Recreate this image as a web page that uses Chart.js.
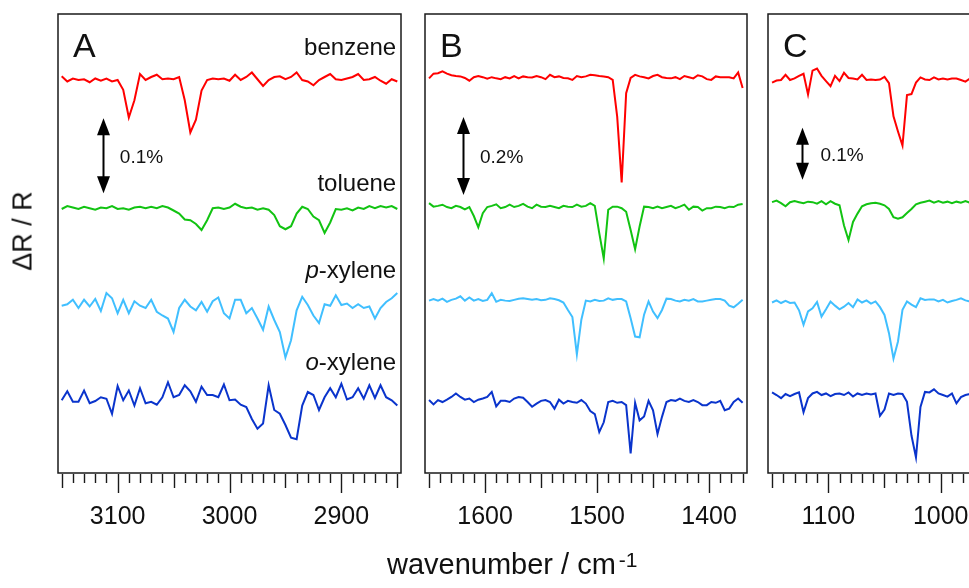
<!DOCTYPE html>
<html>
<head>
<meta charset="utf-8">
<title>Delta R / R spectra</title>
<script src="https://cdn.jsdelivr.net/npm/chart.js@4.4.1/dist/chart.umd.min.js"></script>
<style>
  html, body { margin: 0; padding: 0; background: #fff; }
  #fig { position: relative; width: 969px; height: 588px; overflow: hidden;
         font-family: "Liberation Sans", Arial, sans-serif; color: #111; }
  #fig canvas { position: absolute; top: 0; }
  #ytitle { position: absolute; left: 23px; top: 231px; transform: translate(-50%, -50%) rotate(-90deg);
            font-size: 27px; line-height: 1; white-space: nowrap; }
  #xtitle { position: absolute; left: 387px; top: 550px; font-size: 29px; line-height: 1; white-space: nowrap; }
  #xtitle span { font-size: 21px; position: relative; top: -7px; margin-left: 3px; }
</style>
</head>
<body>
<div id="fig">
  <canvas id="panelA" width="412" height="588" style="left:0px"></canvas>
  <canvas id="panelB" width="345" height="588" style="left:412px"></canvas>
  <canvas id="panelC" width="260" height="588" style="left:757px"></canvas>
  <div id="ytitle">ΔR / R</div>
  <div id="xtitle">wavenumber / cm<span>-1</span></div>
</div>
<script>
// ΔR/R values in units of 1e-5 (0.1 % = 100), relative to each trace's own baseline
var seriesNames = ['benzene', 'toluene', 'p-xylene', 'o-xylene'];
var seriesColors = ['#ff0000', '#12c312', '#40bfff', '#0a34cc'];

// panel A, C-H stretch region
var wnA = [3150, 3145, 3140, 3135, 3130, 3125, 3120, 3115, 3110, 3105, 3100, 3095, 3090, 3085, 3080, 3075, 3070, 3065, 3060, 3055,
  3050, 3045, 3040, 3035, 3030, 3025, 3020, 3015, 3010, 3005, 3000, 2995, 2990, 2985, 2980, 2975, 2970, 2965, 2960, 2955,
  2950, 2945, 2940, 2935, 2930, 2925, 2920, 2915, 2910, 2905, 2900, 2895, 2890, 2885, 2880, 2875, 2870, 2865, 2860, 2855, 2850];
var benzeneA = [5, -2, 2, 0, 1, -3, 2, -1, 2, -2, 0, -13, -50, -27, 8, 0, 4, 7, 1, 2,
  1, 4, -27, -70, -53, -14, 0, 2, 1, 2, -1, 7, 0, 4, 10, 1, -8, 0, 4, 5,
  1, 4, 10, 0, -2, -7, 0, 4, 8, 1, 0, 2, 4, 8, 0, 1, 4, -1, -5, 1, -2];
var tolueneA = [-1, 3, 1, -1, 2, 0, -2, 1, 0, 3, -1, 0, -2, 1, 2, 0, 2, 0, 3, 1,
  -3, -7, -15, -16, -21, -29, -16, 0, 1, -1, 1, 6, 2, 0, 1, -2, 0, -2, -9, -24,
  -28, -24, -7, 2, -1, -11, -16, -33, -19, -1, -2, 0, -3, 1, -1, 3, 0, 3, 1, 3, -1];
var pXyleneA = [-1, 1, 7, -4, 7, -2, 8, -8, 16, 9, -11, 7, -11, 5, -1, -4, 7, -9, -14, -18,
  -36, -4, 7, -2, -7, 4, -9, 5, 10, -11, -18, 7, 7, -11, -4, -18, -33, -2, -20, -36,
  -70, -47, -7, 11, 0, -14, -24, 1, -1, 13, 0, 2, -4, 1, -4, -2, -18, -4, 4, 9, 16];
var oXyleneA = [0, 12, -2, -2, 13, -4, -1, 4, 2, -18, 19, 0, 13, -7, 16, -4, -2, -6, 4, 24,
  4, 7, 20, 12, -2, 18, 7, 7, 4, 21, 0, 1, -6, -9, -25, -38, -31, 20, -13, -18,
  -33, -50, -52, -7, 11, 7, -13, 4, 16, 4, 22, 1, 4, 16, 2, 20, 3, 20, 4, 0, -7];
var offsetsA = [-88, -259, -388, -515];
var tickLabelsA = [3100, 3000, 2900];

// panel B, ring stretch region
var wnB = [1650, 1646, 1642, 1638, 1634, 1630, 1626, 1622, 1618, 1614, 1610, 1606, 1602, 1598, 1594, 1590, 1586, 1582,
  1578, 1574, 1570, 1566, 1562, 1558, 1554, 1550, 1546, 1542, 1538, 1534, 1530, 1526, 1522, 1518, 1514, 1510,
  1506, 1502, 1498, 1494, 1490, 1486, 1482, 1478, 1474, 1470, 1466, 1462, 1458, 1454, 1450, 1446, 1442, 1438,
  1434, 1430, 1426, 1422, 1418, 1414, 1410, 1406, 1402, 1398, 1394, 1390, 1386, 1382, 1378, 1374, 1370];
var benzeneB = [-3, 9, 10, 15, 9, 5, 3, 2, -2, -9, 0, 3, 0, -4, 0, -3, -5, 0, -3, 3,
  -3, 2, 0, -1, 3, 0, -5, 6, 0, 2, -2, -3, -7, 3, 0, 2, 6, 5, 3, 2,
  0, -7, -101, -270, -41, -2, 6, 2, 0, -3, 3, 6, 0, -2, -3, 0, -5, 3, 0, -3,
  5, 2, -5, -7, 2, 0, 0, 0, -3, 12, -28];
var tolueneB = [7, -2, 0, 3, -3, -6, 0, -3, -9, -3, -26, -55, -19, -3, 0, 4, -6, -3, 3, -3,
  0, 5, -2, -6, 3, -2, -3, 0, -3, -6, 0, -2, -3, 3, -2, 0, 7, 0, -70, -135,
  -10, -2, -2, -6, -15, -62, -111, -53, -2, -3, -6, -2, -6, -3, 0, -6, -2, 3, -10, -2,
  -3, -12, -6, -6, -2, -3, -6, -2, -3, 3, 5];
var pXyleneB = [-2, 2, -2, 3, -5, 0, 3, 9, -2, 6, -2, 2, -3, 0, 17, -5, 0, -2, -3, 0,
  3, 4, 2, 0, 2, -1, 0, 4, 2, -1, -7, -26, -44, -140, -51, -2, -4, 0, -3, -2,
  4, 0, 2, 2, -4, -47, -94, -96, -38, -4, -30, -47, -26, 3, 2, -2, -4, 0, -2, 2,
  -4, -4, -2, 0, 2, 2, -2, -15, -19, -10, 0];
var oXyleneB = [2, -9, 2, -3, 3, 10, 19, 10, 3, 6, -3, 3, 6, 10, 23, -14, 0, 0, -3, 6,
  10, 8, -3, -15, -7, 0, 2, -3, -20, 3, -7, 0, -3, -5, 2, -7, -26, -34, -80, -55,
  -3, 0, -5, -3, -11, -135, -5, -50, -40, 0, -24, -85, -41, -3, 2, 0, 6, 0, -3, 2,
  -3, -11, -11, -3, -5, 0, -24, -20, -3, 6, -5];
var offsetsB = [-162, -492, -733, -992];
var tickLabelsB = [1600, 1500, 1400];

// panel C, ring breathing / C-H bend region
var wnC = [1150, 1146, 1142, 1138, 1134, 1130, 1126, 1122, 1118, 1114, 1110, 1106, 1102, 1098, 1094,
  1090, 1086, 1082, 1078, 1074, 1070, 1066, 1062, 1058, 1054, 1050, 1046, 1042, 1038, 1034,
  1030, 1026, 1022, 1018, 1014, 1010, 1006, 1002, 998, 994, 990, 986, 982, 978, 974];
var benzeneC = [-5, -1, 0, 10, 0, 3, 8, 12, -28, 18, 22, 8, -2, -12, 8, -2, 14, 4, 3, 1,
  10, 0, 1, 0, 1, 6, -6, -70, -99, -126, -29, -27, -5, 5, 1, 0, 5, 1, 3, 1, 3, 3, 0, -3, 3];
var tolueneC = [0, 3, -2, -8, 0, 2, 0, -2, 1, 0, -3, 2, -4, 2, -3, -6, -45, -73, -38, -22,
  -8, -4, -2, -1, -3, -6, -13, -29, -32, -29, -21, -13, -4, -1, 1, 3, -1, 2, -1, 1, -2, 1, -1, 2, -1];
var pXyleneC = [-2, 2, -3, 1, -3, -2, -17, -45, -19, -13, -1, -29, -15, 0, -8, -15, -10, -3, -11, 4,
  -2, 2, -4, 0, -11, -26, -61, -110, -77, -16, 0, -6, -11, 6, 3, 4, 4, 0, 3, -2, 1, 3, 6, 2, 0];
var oXyleneC = [3, -2, -8, 0, -4, 0, 3, -35, -8, 1, 4, -2, 1, -4, 0, 1, -2, 3, -5, 1,
  -2, 1, -1, 1, -42, -30, 1, -2, 1, 0, -15, -80, -122, -25, 4, 3, 9, 1, -2, -5, 1, -18, -6, -2, 0];
var offsetsC = [-127, -362, -553, -731];
var tickLabelsC = [1100, 1000];

var FONT = '"Liberation Sans", Arial, sans-serif';

// frame, hanging ticks, panel letter, scale bar and trace names
var deco = {
  id: 'deco',
  afterDatasetsDraw: function (chart, args, o) {
    var ctx = chart.ctx, a = chart.chartArea, x = chart.scales.x, y = chart.scales.y;
    ctx.save();
    ctx.strokeStyle = '#1a1a1a';
    ctx.lineWidth = 1.5;
    ctx.strokeRect(a.left, a.top, a.right - a.left, a.bottom - a.top);

    ctx.lineWidth = 1.4;
    ctx.beginPath();
    for (var v = o.tickFrom; v >= o.tickTo; v -= 10) {
      var px = Math.round(x.getPixelForValue(v)) + 0.5;
      var len = v % 100 === 0 ? 19 : (v % 50 === 0 ? 14 : 9);
      ctx.moveTo(px, a.bottom + 1);
      ctx.lineTo(px, a.bottom + 1 + len);
    }
    ctx.stroke();

    ctx.fillStyle = '#111';
    ctx.textBaseline = 'alphabetic';
    ctx.textAlign = 'left';
    ctx.font = '34px ' + FONT;
    ctx.fillText(o.letter, a.left + 15, a.top + 43);

    var b = o.bar;
    var bx = Math.round(x.getPixelForValue(b.x)) + 0.5;
    var y0 = y.getPixelForValue(b.top), y1 = y.getPixelForValue(b.bottom);
    var hl = 17, hw = 6.5;
    ctx.fillStyle = '#000';
    ctx.strokeStyle = '#000';
    ctx.lineWidth = 2;
    ctx.beginPath();
    ctx.moveTo(bx, y0 + hl - 2);
    ctx.lineTo(bx, y1 - hl + 2);
    ctx.stroke();
    ctx.beginPath();
    ctx.moveTo(bx, y0); ctx.lineTo(bx - hw, y0 + hl); ctx.lineTo(bx + hw, y0 + hl);
    ctx.closePath(); ctx.fill();
    ctx.beginPath();
    ctx.moveTo(bx, y1); ctx.lineTo(bx - hw, y1 - hl); ctx.lineTo(bx + hw, y1 - hl);
    ctx.closePath(); ctx.fill();
    ctx.fillStyle = '#111';
    ctx.font = '19px ' + FONT;
    ctx.textBaseline = 'middle';
    ctx.fillText(b.text, x.getPixelForValue(b.textX), (y0 + y1) / 2 + 2);

    if (o.names) {
      ctx.textBaseline = 'alphabetic';
      ctx.textAlign = 'right';
      o.names.forEach(function (n) {
        var nx = x.getPixelForValue(n.x), ny = y.getPixelForValue(n.y);
        var dash = n.text.indexOf('-');
        var rest = dash > 0 ? n.text.slice(dash) : n.text;
        ctx.font = '24px ' + FONT;
        ctx.fillText(rest, nx, ny);
        if (dash > 0) {
          var w = ctx.measureText(rest).width;
          ctx.font = 'italic 24px ' + FONT;
          ctx.fillText(n.text.slice(0, dash), nx - w, ny);
        }
      });
    }
    ctx.restore();
  }
};

function traces(wn, series, offsets) {
  return series.map(function (vals, k) {
    return {
      label: seriesNames[k],
      data: wn.map(function (w, i) { return { x: w, y: vals[i] + offsets[k] }; }),
      borderColor: seriesColors[k],
      borderWidth: 2,
      pointRadius: 0,
      tension: 0,
      fill: false
    };
  });
}

function panel(id, p) {
  return new Chart(document.getElementById(id), {
    type: 'line',
    data: { datasets: p.datasets },
    plugins: [deco],
    options: {
      responsive: false,
      animation: false,
      events: [],
      layout: { padding: p.padding },
      plugins: {
        legend: { display: false },
        tooltip: { enabled: false },
        deco: p.deco
      },
      scales: {
        x: {
          type: 'linear',
          reverse: true,
          min: p.xMin,
          max: p.xMax,
          // invisible tick marks only push the labels down; real ticks come from the deco plugin
          grid: { display: true, drawOnChartArea: false, drawTicks: true, tickLength: 26, tickColor: 'rgba(0,0,0,0)' },
          border: { display: false },
          ticks: {
            color: '#111',
            font: { family: FONT, size: 25 },
            padding: 3,
            autoSkip: false,
            maxRotation: 0,
            includeBounds: false,
            callback: function (v) { return String(v); }
          },
          afterBuildTicks: function (s) {
            s.ticks = p.tickLabels.map(function (v) { return { value: v }; });
          },
          afterFit: function (s) { s.height = 115; }
        },
        y: { display: false, min: p.yMin, max: 0 }
      }
    }
  });
}

panel('panelA', {
  datasets: traces(wnA, [benzeneA, tolueneA, pXyleneA, oXyleneA], offsetsA),
  padding: { left: 58, right: 11, top: 14, bottom: 0 },
  xMin: 2846.7, xMax: 3153.3, yMin: -612,
  tickLabels: tickLabelsA,
  deco: {
    letter: 'A', tickFrom: 3150, tickTo: 2850,
    bar: { x: 3113, top: -139, bottom: -239, text: '0.1%', textX: 3098 },
    names: [
      { text: seriesNames[0], x: 2851, y: -55 },
      { text: seriesNames[1], x: 2851, y: -236 },
      { text: seriesNames[2], x: 2851, y: -352 },
      { text: seriesNames[3], x: 2851, y: -475 }
    ]
  }
});

panel('panelB', {
  datasets: traces(wnB, [benzeneB, tolueneB, pXyleneB, oXyleneB], offsetsB),
  padding: { left: 13, right: 10, top: 14, bottom: 0 },
  xMin: 1366.1, xMax: 1653.6, yMin: -1177,
  tickLabels: tickLabelsB,
  deco: {
    letter: 'B', tickFrom: 1650, tickTo: 1370,
    bar: { x: 1620, top: -264, bottom: -464, text: '0.2%', textX: 1604.5 }
  }
});

panel('panelC', {
  datasets: traces(wnC, [benzeneC, tolueneC, pXyleneC, oXyleneC], offsetsC),
  padding: { left: 11, right: 5, top: 14, bottom: 0 },
  xMin: 936.6, xMax: 1153.6, yMin: -883,
  tickLabels: tickLabelsC,
  deco: {
    letter: 'C', tickFrom: 1150, tickTo: 940,
    bar: { x: 1123, top: -219, bottom: -319, text: '0.1%', textX: 1107 }
  }
});
</script>
</body>
</html>
